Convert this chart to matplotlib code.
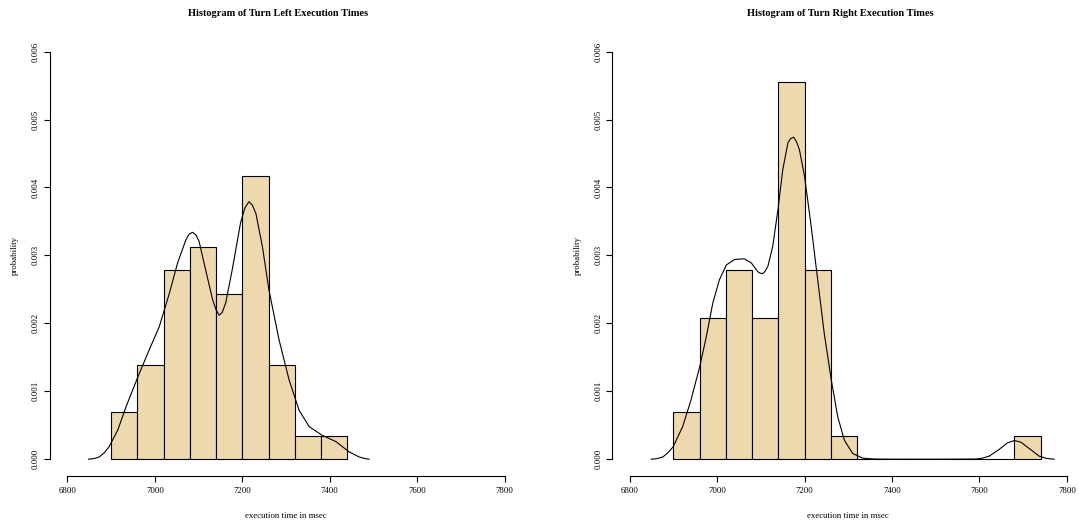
import numpy as np
import matplotlib
matplotlib.use("Agg")
import matplotlib.pyplot as plt

plt.rcParams['font.family'] = ['Liberation Serif', 'DejaVu Serif']

# histogram bins (msec) and counts
bin_width = 60
left_bin_starts = [6900, 6960, 7020, 7080, 7140, 7200, 7260, 7320, 7380]
left_counts = [2, 4, 8, 9, 7, 12, 4, 1, 1]
right_bin_starts = [6900, 6960, 7020, 7080, 7140, 7200, 7260, 7320, 7380,
                    7440, 7500, 7560, 7620, 7680]
right_counts = [2, 6, 8, 6, 16, 8, 1, 0, 0, 0, 0, 0, 0, 1]

# density curves, read point by point
left_dens_x = [6848, 6860, 6873, 6885, 6895, 6915, 6934, 6961, 6987, 7010,
               7033, 7052, 7071, 7078, 7086, 7094, 7101, 7116, 7132, 7140,
               7147, 7154, 7162, 7177, 7196, 7206, 7215, 7223, 7231, 7246,
               7261, 7284, 7307, 7330, 7353, 7383, 7414, 7444, 7467, 7480,
               7490]
left_dens_y = [0.0, 0.000008, 0.000034, 0.0001, 0.000182, 0.000428, 0.000772,
               0.00121, 0.00161, 0.00195, 0.00244, 0.00289, 0.00323, 0.00331,
               0.00334, 0.0033, 0.00321, 0.00279, 0.00235, 0.0022, 0.00212,
               0.00216, 0.0023, 0.00279, 0.00348, 0.0037, 0.00379, 0.00374,
               0.00362, 0.00313, 0.00249, 0.00176, 0.00117, 0.00072, 0.00048,
               0.00035, 0.00026, 0.00011, 0.000034, 0.00001, 0.0]
right_dens_x = [6849, 6862, 6876, 6888, 6899, 6921, 6940, 6960, 6975, 6990,
                7005, 7021, 7040, 7062, 7078, 7093, 7098, 7104, 7110, 7116,
                7127, 7139, 7150, 7162, 7168, 7175, 7181, 7188, 7200, 7215,
                7230, 7245, 7261, 7276, 7291, 7310, 7333, 7360, 7400, 7500,
                7590, 7605, 7622, 7645, 7664, 7680, 7695, 7714, 7737, 7755,
                7771]
right_dens_y = [0.0, 0.000008, 0.000034, 0.0001, 0.00018, 0.00048, 0.00087,
                0.00136, 0.0018, 0.0023, 0.00264, 0.00286, 0.00294, 0.00295,
                0.00289, 0.00276, 0.00274, 0.00273, 0.00277, 0.00284, 0.00313,
                0.00367, 0.00426, 0.00466, 0.00472, 0.00474, 0.00468, 0.00456,
                0.00416, 0.00343, 0.00264, 0.00185, 0.00117, 0.00062, 0.00028,
                0.000084, 0.000015, 0.000002, 0.0, 0.0, 0.000002, 0.000012,
                0.000044, 0.000143, 0.00024, 0.000275, 0.00025, 0.000157,
                0.000044, 0.00001, 0.0]

titles = ["Histogram of Turn Left Execution Times",
          "Histogram of Turn Right Execution Times"]

fig = plt.figure(figsize=(10.79, 5.25), dpi=100)
ax_left = fig.add_axes([50 / 1079, 49.5 / 525, 472 / 1079, 440.2 / 525])
ax_right = fig.add_axes([612.3 / 1079, 49.5 / 525, 472 / 1079, 440.2 / 525])

panels = [(ax_left, left_bin_starts, left_counts, left_dens_x, left_dens_y),
          (ax_right, right_bin_starts, right_counts, right_dens_x, right_dens_y)]

for ax, starts, counts, dx, dy in panels:
    counts = np.array(counts)
    dens = counts / (counts.sum() * bin_width)
    ax.bar(starts, dens, width=bin_width, align='edge', color='#EED8AE',
           edgecolor='black', linewidth=0.8)
    ax.plot(dx, dy, color='black', linewidth=0.8)

    ax.set_xlim(6760, 7840)
    ax.set_ylim(-0.00024, 0.00624)
    for s in ['top', 'right']:
        ax.spines[s].set_visible(False)
    ax.spines['left'].set_bounds(0, 0.006)
    ax.spines['bottom'].set_bounds(6800, 7800)
    ax.spines['left'].set_linewidth(0.8)
    ax.spines['bottom'].set_linewidth(0.8)

    ax.set_xticks(np.arange(6800, 7801, 200))
    ax.set_xticklabels([str(v) for v in range(6800, 7801, 200)], fontsize=6.3)
    yt = [0.0, 0.001, 0.002, 0.003, 0.004, 0.005, 0.006]
    ax.set_yticks(yt)
    ax.set_yticklabels(["%.3f" % v for v in yt], rotation=90, va='center',
                       fontsize=6.3)
    ax.tick_params(axis='x', length=4.3, width=0.8, pad=4)
    ax.tick_params(axis='y', length=4.3, width=0.8, pad=3)

    ax.set_xlabel("execution time in msec", fontsize=6.3, labelpad=12)
    ax.set_ylabel("probability", fontsize=6.3, labelpad=9)

fig.text(278 / 1079, 1 - 14 / 525, titles[0], ha='center', va='center',
         fontsize=7.5, fontweight='bold')
fig.text(840 / 1079, 1 - 14 / 525, titles[1], ha='center', va='center',
         fontsize=7.5, fontweight='bold')

fig.savefig("out.png", dpi=100)
